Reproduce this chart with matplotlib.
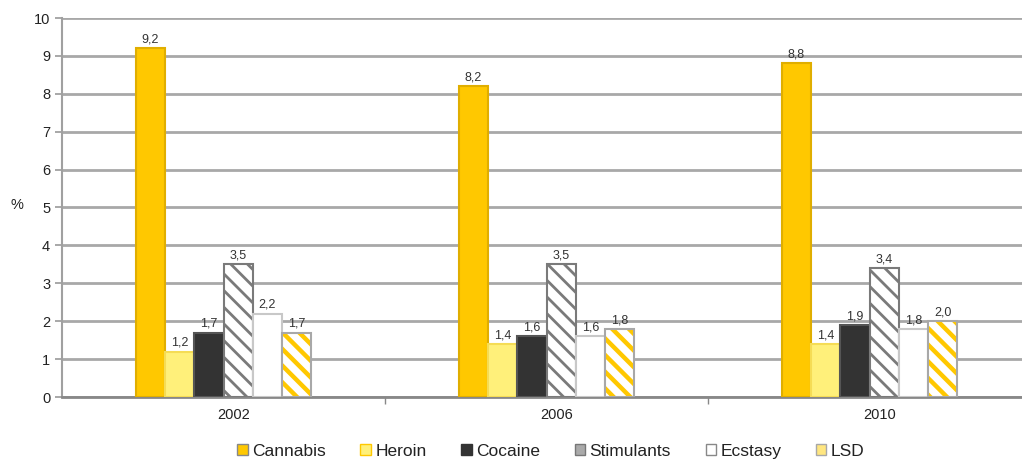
import numpy as np
import matplotlib
matplotlib.use("Agg")
from matplotlib import pyplot as plt
from matplotlib.patches import Patch

years = ["2002", "2006", "2010"]
drugs = ["Cannabis", "Heroin", "Cocaine", "Stimulants", "Ecstasy", "LSD"]
cannabis = [9.2, 8.2, 8.8]
heroin = [1.2, 1.4, 1.4]
cocaine = [1.7, 1.6, 1.9]
stimulants = [3.5, 3.5, 3.4]
ecstasy = [2.2, 1.6, 1.8]
lsd = [1.7, 1.8, 2.0]
values = [cannabis, heroin, cocaine, stimulants, ecstasy, lsd]

# face, edge, hatch
styles = {
    "Cannabis":   dict(color="#FFC800", edgecolor="#E0AE00", hatch=None, hlw=1.0),
    "Heroin":     dict(color="#FFF07A", edgecolor="#F5DC55", hatch=None, hlw=1.0),
    "Cocaine":    dict(color="#333333", edgecolor="#555555", hatch=None, hlw=1.0),
    "Stimulants": dict(color="white", edgecolor="#7A7A7A", hatch="\\\\", hlw=2.0),
    "Ecstasy":    dict(color="white", edgecolor="#C8C8C8", hatch=None, hlw=1.0),
    "LSD":        dict(color="white", edgecolor="#FFC800", hatch="\\\\", hlw=3.2),
}

plt.rcParams["font.family"] = ["Liberation Sans", "DejaVu Sans"]

fig = plt.figure(figsize=(10.22, 4.65), dpi=100)
ax = fig.add_axes([62 / 1022, 68 / 465, 969 / 1022, 379 / 465])

x = np.arange(len(years))
w = 0.0907
offsets = (np.arange(len(drugs)) - 2.5) * w

handles = []
for i, (name, vals) in enumerate(zip(drugs, values)):
    st = styles[name]
    pos = x + offsets[i]
    with plt.rc_context({"hatch.linewidth": st["hlw"]}):
        if name == "LSD":
            ax.bar(pos, vals, w, color="white", edgecolor=st["edgecolor"],
                   hatch=st["hatch"], linewidth=0, zorder=3)
            ax.bar(pos, vals, w, color="none", edgecolor="#A8A8A8", linewidth=1.5, zorder=4)
            handles.append(Patch(facecolor="#FFE680", edgecolor="#A8A8A8", linewidth=1))
        else:
            ax.bar(pos, vals, w, color=st["color"], edgecolor=st["edgecolor"],
                   hatch=st["hatch"], linewidth=1.5, zorder=3)
            if name == "Stimulants":
                handles.append(Patch(facecolor="#AAAAAA", edgecolor="#777777", linewidth=1))
            elif name == "Cannabis":
                handles.append(Patch(facecolor="#FFC800", edgecolor="#888888", linewidth=1))
            elif name == "Heroin":
                handles.append(Patch(facecolor="#FFF07A", edgecolor="#FFC800", linewidth=1))
            elif name == "Ecstasy":
                handles.append(Patch(facecolor="white", edgecolor="#888888", linewidth=1))
            else:
                handles.append(Patch(facecolor="#333333", edgecolor="#333333", linewidth=1))
    for px, v in zip(pos, vals):
        ax.text(px, v + 0.07, ("%.1f" % v).replace(".", ","), ha="center", va="bottom",
                fontsize=9, color="#333333", zorder=5)

ax.set_xlim(-0.5, 2.5)
ax.set_ylim(0, 10)
ax.set_yticks(range(0, 11))
ax.yaxis.grid(True, color="#A8A8A8", linewidth=2, zorder=0)
ax.set_axisbelow(True)
ax.set_xticks(x + 0.03)
ax.set_xticklabels(years)
ax.set_xticks([0.5, 1.5], minor=True)
ax.tick_params(axis="x", which="major", length=0, labelsize=10.5, pad=8, colors="#222222")
ax.tick_params(axis="x", which="minor", length=5, color="#888888", width=1)
ax.tick_params(axis="y", length=5, color="#999999", width=1.2, labelsize=10.5,
               labelcolor="#222222")

for side in ["top", "right"]:
    ax.spines[side].set_visible(False)
ax.spines["left"].set_color("#A0A0A0")
ax.spines["left"].set_linewidth(1.5)
ax.spines["bottom"].set_color("#888888")
ax.spines["bottom"].set_linewidth(2)

fig.text(17 / 1022, 1 - 205 / 465, "%", ha="center", va="center", fontsize=10.5, color="#222222")

leg = fig.legend(handles, drugs, loc="lower center", bbox_to_anchor=(0.539, -0.02), ncol=6,
                 frameon=False, fontsize=12.5, handlelength=0.6, handleheight=0.6,
                 handletextpad=0.25, columnspacing=2.0)
for t in leg.get_texts():
    t.set_color("#222222")

fig.savefig("out.png", dpi=100)
